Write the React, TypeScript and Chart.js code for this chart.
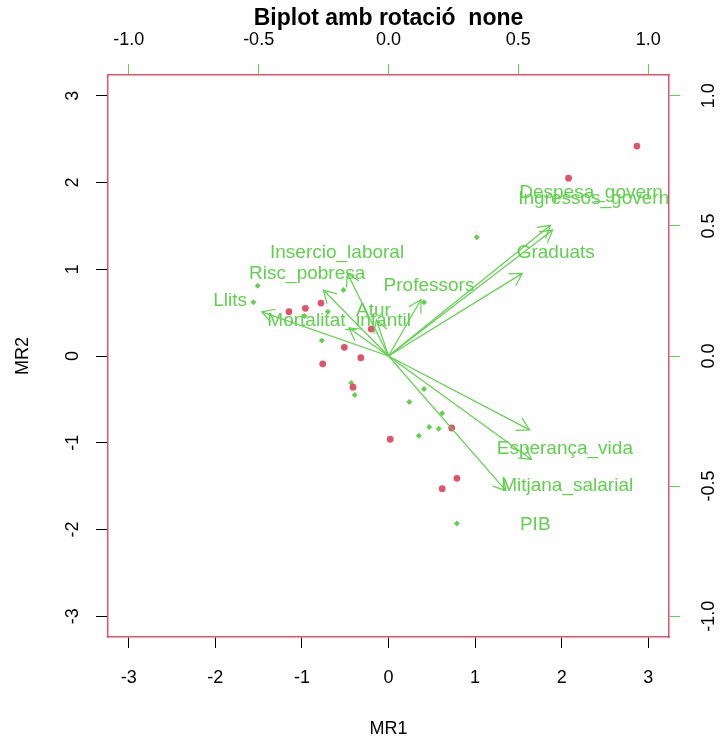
import React, { useEffect, useRef } from "react";
import { Chart, registerables } from "chart.js";

Chart.register(...registerables);

// ---- text ----
const TITLE = "Biplot amb rotació  none";
const X_TITLE = "MR1";
const Y_TITLE = "MR2";

// ---- tick labels ----
const scoreTicks = [-3, -2, -1, 0, 1, 2, 3];
const loadingTicks = [-1, -0.5, 0, 0.5, 1];
const SCORE_LIMIT = 3.24;
const LOADING_LIMIT = 1.08;

// ---- observation scores (group 1, red) ----
const redX = [2.87, 2.08, -1.15, -0.96, -0.78, -0.2, -0.51, -0.32, -0.76, -0.41, 0.73, 0.02, 0.79, 0.62];
const redY = [2.42, 2.05, 0.51, 0.55, 0.61, 0.31, 0.1, -0.02, -0.09, -0.36, -0.83, -0.96, -1.41, -1.53];

// ---- observation scores (group 2, green) ----
const greenX = [-1.51, -1.56, -0.52, -0.7, -0.97, -0.77, 0.41, 1.02, -0.43, -0.39, 0.41, 0.24, 0.62, 0.47, 0.58, 0.35, 0.79];
const greenY = [0.81, 0.62, 0.76, 0.51, 0.46, 0.18, 0.62, 1.37, -0.31, -0.45, -0.38, -0.53, -0.66, -0.82, -0.84, -0.92, -1.93];

// ---- variable loadings ----
const varNames = [
  "Despesa_govern",
  "Ingressos_govern",
  "Graduats",
  "Professors",
  "Insercio_laboral",
  "Risc_pobresa",
  "Llits",
  "Atur",
  "Mortalitat_infantil",
  "Esperança_vida",
  "Mitjana_salarial",
  "PIB",
];
const loadX = [0.78, 0.79, 0.644, 0.156, -0.198, -0.313, -0.61, -0.058, -0.19, 0.679, 0.688, 0.565];
const loadY = [0.628, 0.605, 0.397, 0.27, 0.397, 0.316, 0.212, 0.173, 0.135, -0.355, -0.497, -0.647];
const ARROW_FRACTION = 0.8;

const RED = "#DF536B";
const GREEN = "#61D04F";
const FONT = "'Liberation Sans', Arial, Helvetica, sans-serif";

const arrowPlugin = {
  id: "biplotArrows",
  afterDatasetsDraw(chart: any) {
    const ctx = chart.ctx;
    const x2 = chart.scales.x2;
    const y2 = chart.scales.y2;
    ctx.save();
    ctx.strokeStyle = GREEN;
    ctx.lineWidth = 1.2;
    chart.data.datasets.forEach((ds: any, i: number) => {
      if (!ds.isArrow) return;
      const meta = chart.getDatasetMeta(i);
      const p0 = meta.data[0];
      const p1 = meta.data[1];
      if (!p0 || !p1) return;
      const ang = Math.atan2(p1.y - p0.y, p1.x - p0.x);
      const len = 14;
      const spread = Math.PI / 6;
      ctx.beginPath();
      ctx.moveTo(p1.x - len * Math.cos(ang - spread), p1.y - len * Math.sin(ang - spread));
      ctx.lineTo(p1.x, p1.y);
      ctx.lineTo(p1.x - len * Math.cos(ang + spread), p1.y - len * Math.sin(ang + spread));
      ctx.stroke();
    });
    ctx.fillStyle = GREEN;
    ctx.font = `19px ${FONT}`;
    ctx.textAlign = "center";
    ctx.textBaseline = "middle";
    varNames.forEach((name, i) => {
      ctx.fillText(name, x2.getPixelForValue(loadX[i]), y2.getPixelForValue(loadY[i]));
    });
    ctx.restore();
  },
};

export default function App() {
  const ref = useRef<HTMLCanvasElement | null>(null);

  useEffect(() => {
    document.body.style.margin = "0";
    if (!ref.current) return;
    Chart.defaults.font.family = FONT;

    const arrowSets = varNames.map((name, i) => ({
      type: "line" as const,
      label: name,
      isArrow: true,
      data: [
        { x: 0, y: 0 },
        { x: loadX[i] * ARROW_FRACTION, y: loadY[i] * ARROW_FRACTION },
      ],
      xAxisID: "x2",
      yAxisID: "y2",
      borderColor: GREEN,
      borderWidth: 1.2,
      pointRadius: 0,
      showLine: true,
      fill: false,
      order: 0,
    }));

    const fixedTicks = (vals: number[]) => (scale: any) => {
      scale.ticks = vals.map((v) => ({ value: v }));
    };

    const chart = new Chart(ref.current, {
      type: "scatter",
      data: {
        datasets: [
          {
            label: "group1",
            data: redX.map((x, i) => ({ x, y: redY[i] })),
            backgroundColor: RED,
            borderColor: RED,
            pointRadius: 3.4,
            pointStyle: "circle",
            borderWidth: 0,
            xAxisID: "x",
            yAxisID: "y",
            order: 1,
          },
          {
            label: "group2",
            data: greenX.map((x, i) => ({ x, y: greenY[i] })),
            backgroundColor: GREEN,
            borderColor: GREEN,
            pointRadius: 3,
            pointStyle: "rectRot",
            borderWidth: 0,
            xAxisID: "x",
            yAxisID: "y",
            order: 1,
          },
          ...arrowSets,
        ] as any,
      },
      options: {
        responsive: false,
        animation: false,
        events: [],
        layout: { padding: 0 },
        plugins: {
          legend: { display: false },
          title: { display: false },
          tooltip: { enabled: false },
        },
        scales: {
          x: {
            type: "linear",
            axis: "x",
            position: "bottom",
            min: -SCORE_LIMIT,
            max: SCORE_LIMIT,
            afterBuildTicks: fixedTicks(scoreTicks),
            afterFit: (s: any) => {
              s.height = 103;
            },
            grid: { drawOnChartArea: false, tickLength: 11, tickColor: "#000", tickWidth: 1 },
            border: { display: true, color: RED, width: 1.5 },
            ticks: {
              color: "#000",
              font: { size: 18 },
              padding: 19,
              callback: (v: any) => String(v),
            },
            title: {
              display: true,
              text: X_TITLE,
              color: "#000",
              font: { size: 18 },
              padding: { top: 0, bottom: 0 },
            },
          },
          x2: {
            type: "linear",
            axis: "x",
            position: "top",
            min: -LOADING_LIMIT,
            max: LOADING_LIMIT,
            afterBuildTicks: fixedTicks(loadingTicks),
            afterFit: (s: any) => {
              s.height = 75;
            },
            grid: { drawOnChartArea: false, tickLength: 11, tickColor: GREEN, tickWidth: 1 },
            border: { display: true, color: RED, width: 1.5 },
            ticks: {
              color: "#000",
              font: { size: 18 },
              padding: 13,
              callback: (v: any) => Number(v).toFixed(1),
            },
            title: {
              display: true,
              text: TITLE,
              color: "#000",
              font: { size: 23, weight: "bold" },
              padding: { top: 5, bottom: 0 },
            },
          },
          y: {
            type: "linear",
            axis: "y",
            position: "left",
            min: -SCORE_LIMIT,
            max: SCORE_LIMIT,
            afterBuildTicks: fixedTicks(scoreTicks),
            afterFit: (s: any) => {
              s.width = 108;
            },
            grid: { drawOnChartArea: false, tickLength: 12, tickColor: "#000", tickWidth: 1 },
            border: { display: true, color: RED, width: 1.5 },
            ticks: {
              color: "#000",
              font: { size: 18 },
              padding: 15,
              minRotation: 90,
              maxRotation: 90,
              crossAlign: "center",
              callback: (v: any) => String(v),
            },
            title: {
              display: true,
              text: Y_TITLE,
              color: "#000",
              font: { size: 18 },
              padding: { top: 12, bottom: 0 },
            },
          },
          y2: {
            type: "linear",
            axis: "y",
            position: "right",
            min: -LOADING_LIMIT,
            max: LOADING_LIMIT,
            afterBuildTicks: fixedTicks(loadingTicks),
            afterFit: (s: any) => {
              s.width = 51;
            },
            grid: { drawOnChartArea: false, tickLength: 11, tickColor: GREEN, tickWidth: 1 },
            border: { display: true, color: RED, width: 1.5 },
            ticks: {
              color: "#000",
              font: { size: 18 },
              padding: 14,
              minRotation: 90,
              maxRotation: 90,
              crossAlign: "center",
              callback: (v: any) => Number(v).toFixed(1),
            },
          },
        },
      } as any,
      plugins: [arrowPlugin],
    });

    return () => {
      chart.destroy();
    };
  }, []);

  return (
    <div style={{ width: 720, height: 740, background: "#fff" }}>
      <canvas ref={ref} width={720} height={740} style={{ display: "block" }} />
    </div>
  );
}
